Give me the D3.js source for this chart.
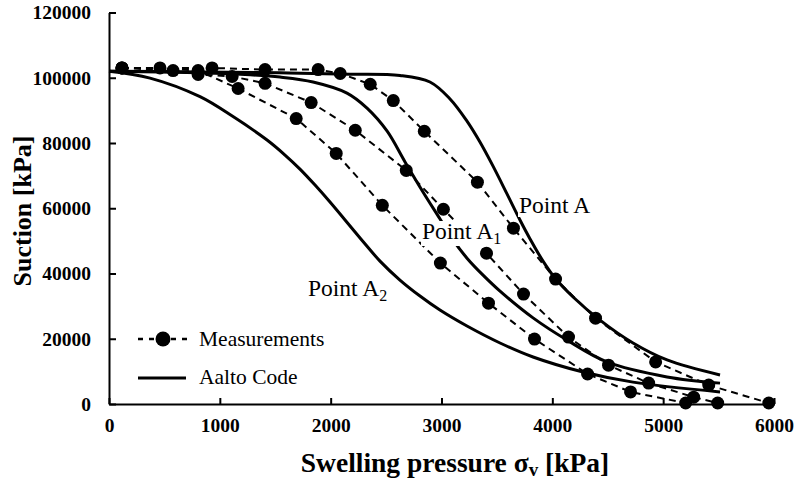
<!DOCTYPE html>
<html><head><meta charset="utf-8">
<script src="https://cdn.jsdelivr.net/npm/d3@7/dist/d3.min.js"></script>
<style>html,body{margin:0;padding:0;background:#fff}</style>
</head><body>
<svg id="chart" width="800" height="481"></svg>
<script>
// ---- data ----
const xTicks = [0, 1000, 2000, 3000, 4000, 5000, 6000];
const yTicks = [0, 20000, 40000, 60000, 80000, 100000, 120000];

// Measurements (dashed with circles)
const measA_p  = [117, 930, 1408, 1887, 2086, 2357, 2565, 2845, 3324, 3649, 4029, 4390, 4932, 5411, 5953];
const measA_s  = [103000, 103000, 102500, 102500, 101300, 98000, 93000, 83600, 68000, 53900, 38300, 26300, 12900, 5800, 300];
const measA1_p = [117, 578, 804, 1111, 1408, 1824, 2222, 2682, 3017, 3406, 3740, 4146, 4507, 4869, 5275, 5492];
const measA1_s = [103000, 102200, 101000, 100400, 98300, 92400, 83900, 71600, 59700, 46200, 33700, 20500, 11900, 6400, 2100, 300];
const measA2_p = [117, 460, 804, 1165, 1689, 2050, 2466, 2990, 3424, 3839, 4318, 4706, 5203];
const measA2_s = [103000, 103000, 102200, 96700, 87500, 76800, 60900, 43200, 30900, 19900, 9200, 3700, 300];

// Aalto Code (solid)
const codeA_p  = [0, 821, 1543, 2175, 2626, 2896, 3077, 3230, 3347, 3465, 3591, 3708, 3799, 3916, 4024, 4187, 4430, 4728, 5035, 5513];
const codeA_s  = [102000, 101800, 101500, 101100, 100700, 98700, 93500, 86700, 80300, 72900, 64400, 56400, 50600, 43800, 38600, 32800, 25700, 18700, 13500, 8900];
const codeA1_p = [0, 821, 1273, 1543, 1841, 2147, 2328, 2508, 2671, 2833, 2987, 3104, 3230, 3375, 3528, 3826, 4132, 4493, 5035, 5513];
const codeA1_s = [102000, 101500, 100900, 100200, 98700, 95300, 90700, 83700, 74200, 65000, 56700, 50300, 44700, 39500, 34600, 26400, 19600, 12900, 8300, 6400];
const codeA2_p = [0, 370, 821, 1119, 1426, 1588, 1723, 1859, 1994, 2265, 2445, 2625, 2806, 2986, 3230, 3528, 3826, 4277, 4728, 5513];
const codeA2_s = [102000, 99900, 94200, 88100, 80900, 76300, 72000, 67100, 61900, 50900, 43800, 38000, 33100, 28800, 23900, 18700, 14400, 9800, 6700, 3700];

const legendLabels = ["Measurements", "Aalto Code"];

// ---- drawing ----
const svg = d3.select("#chart");
const W = 800, H = 481;
const m = {left: 109, right: 26, top: 12.5, bottom: 77};
const x = d3.scaleLinear().domain([0, 6000]).range([m.left, W - m.right]);
const y = d3.scaleLinear().domain([0, 120000]).range([H - m.bottom, m.top]);
const serif = "'Liberation Serif','Times New Roman',serif";

const zip = (a, b) => a.map((v, i) => [v, b[i]]);
const measSets = [zip(measA_p, measA_s), zip(measA1_p, measA1_s), zip(measA2_p, measA2_s)];
const codeSets = [zip(codeA_p, codeA_s), zip(codeA1_p, codeA1_s), zip(codeA2_p, codeA2_s)];

// axes
const xAxis = d3.axisBottom(x).tickValues(xTicks).tickSizeInner(-6).tickSizeOuter(0).tickPadding(14).tickFormat(d3.format("d"));
const yAxis = d3.axisLeft(y).tickValues(yTicks).tickSizeInner(-7).tickSizeOuter(0).tickPadding(18).tickFormat(d3.format("d"));

const gx = svg.append("g").attr("transform", `translate(0,${y(0)})`).call(xAxis);
const gy = svg.append("g").attr("transform", `translate(${x(0)},0)`).call(yAxis);
[gx, gy].forEach(g => {
  g.select(".domain").attr("stroke", "#000").attr("stroke-width", 2);
  g.selectAll(".tick line").attr("stroke", "#000").attr("stroke-width", 2);
  g.selectAll(".tick text").attr("font-family", serif).attr("font-weight", "bold")
    .attr("font-size", 19.5).attr("fill", "#000");
});

// lines
const lineCode = d3.line().x(d => x(d[0])).y(d => y(d[1])).curve(d3.curveCatmullRom.alpha(0.5));
const lineMeas = d3.line().x(d => x(d[0])).y(d => y(d[1])).curve(d3.curveLinear);

svg.append("g").selectAll("path").data(codeSets).join("path")
  .attr("d", lineCode).attr("fill", "none").attr("stroke", "#000").attr("stroke-width", 3);

svg.append("g").selectAll("path").data(measSets).join("path")
  .attr("d", lineMeas).attr("fill", "none").attr("stroke", "#000").attr("stroke-width", 2)
  .attr("stroke-dasharray", "7,5");

// annotation labels with white background
function label(xp, yp, main, sub) {
  const g = svg.append("g");
  const t = g.append("text").attr("x", xp).attr("y", yp)
    .attr("font-family", serif).attr("font-size", 23.5).attr("fill", "#000");
  t.append("tspan").text(main);
  if (sub) t.append("tspan").attr("font-size", 16).attr("dy", 5).text(sub);
  const bb = t.node().getBBox();
  g.insert("rect", "text").attr("x", bb.x - 1).attr("y", bb.y + 3).attr("width", bb.width + 2)
    .attr("height", bb.height - 4).attr("fill", "#fff");
}
label(519, 213, "Point A", "");
label(422, 239, "Point A", "1");
label(308, 296, "Point A", "2");

// markers
svg.append("g").selectAll("circle").data(measSets.flat()).join("circle")
  .attr("cx", d => x(d[0])).attr("cy", d => y(d[1])).attr("r", 6.5).attr("fill", "#000");

// legend
const lg = svg.append("g");
lg.append("line").attr("x1", 138).attr("x2", 187).attr("y1", 339).attr("y2", 339)
  .attr("stroke", "#000").attr("stroke-width", 2.5).attr("stroke-dasharray", "5,6");
lg.append("circle").attr("cx", 163).attr("cy", 339).attr("r", 7.5).attr("fill", "#000");
lg.append("line").attr("x1", 138).attr("x2", 186).attr("y1", 378).attr("y2", 378)
  .attr("stroke", "#000").attr("stroke-width", 3);
lg.selectAll("text").data(legendLabels).join("text")
  .attr("x", 199).attr("y", (d, i) => 346 + i * 38).text(d => d)
  .attr("font-family", serif).attr("font-size", 21.5).attr("fill", "#000");

// axis titles
const xt = svg.append("text").attr("x", 455).attr("y", 472).attr("text-anchor", "middle")
  .attr("font-family", serif).attr("font-weight", "bold").attr("font-size", 27.5).attr("fill", "#000");
xt.append("tspan").text("Swelling pressure σ");
xt.append("tspan").attr("font-size", 19).attr("dy", 4).text("v");
xt.append("tspan").attr("dy", -4).text(" [kPa]");

svg.append("text").attr("transform", "translate(31,211) rotate(-90)").attr("text-anchor", "middle")
  .attr("font-family", serif).attr("font-weight", "bold").attr("font-size", 26).attr("fill", "#000")
  .text("Suction [kPa]");
</script>
</body></html>
